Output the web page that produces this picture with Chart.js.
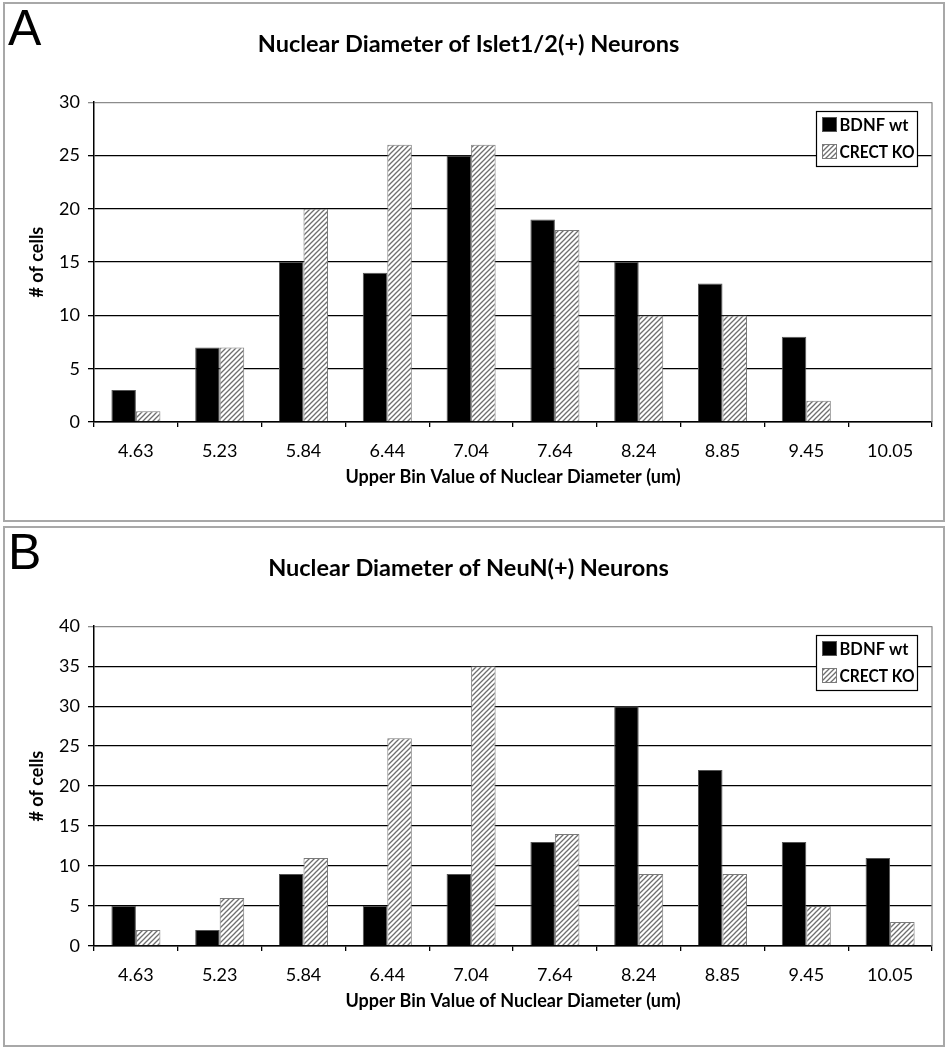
<!DOCTYPE html>
<html>
<head>
<meta charset="utf-8">
<script src="https://cdn.jsdelivr.net/npm/chart.js@4.4.0/dist/chart.umd.min.js"></script>
<style>
  body { margin: 0; background: #fff; }
  .panel { position: absolute; left: 3px; width: 942px; box-sizing: border-box; border: 2px solid #a8a8a8; background: #fff; }
  .panel canvas { position: absolute; left: 0; top: 0; }
  .letter { position: absolute; left: 3px; top: -1px; font: 50px/1 "Liberation Sans", Arial, sans-serif; color: #000; }
</style>
</head>
<body>
<div class="panel" style="top:2px;height:520px;">
  <canvas id="chartA" width="938" height="516"></canvas>
  <div class="letter">A</div>
</div>
<div class="panel" style="top:526px;height:521px;">
  <canvas id="chartB" width="938" height="516"></canvas>
  <div class="letter">B</div>
</div>
<script>
// bins and series
const binLabels = ['4.63', '5.23', '5.84', '6.44', '7.04', '7.64', '8.24', '8.85', '9.45', '10.05'];
const seriesNames = ['BDNF wt', 'CRECT KO'];

const isletWt = [3, 7, 15, 14, 25, 19, 15, 13, 8, 0];
const isletKo = [1, 7, 20, 26, 26, 18, 10, 10, 2, 0];

const neunWt = [5, 2, 9, 5, 9, 13, 30, 22, 13, 11];
const neunKo = [2, 6, 11, 26, 35, 14, 9, 9, 5, 3];

const yMaxA = 30;
const yMaxB = 40;
const yStep = 5;

const fontFamily = 'Lato, "Open Sans", sans-serif';

function makeHatch() {
    const c = document.createElement('canvas');
    c.width = 5;
    c.height = 5;
    const g = c.getContext('2d');
    g.fillStyle = '#fff';
    g.fillRect(0, 0, 5, 5);
    g.strokeStyle = '#6e6e6e';
    g.lineWidth = 1.3;
    g.beginPath();
    g.moveTo(0, 5); g.lineTo(5, 0);
    g.moveTo(-1, 1); g.lineTo(1, -1);
    g.moveTo(4, 6); g.lineTo(6, 4);
    g.stroke();
    return g.createPattern(c, 'repeat');
}

const hatch = makeHatch();

// grey frame on the right side of the plot area
const plotFrame = {
    id: 'plotFrame',
    beforeDatasetsDraw(chart) {
        const { ctx, chartArea: a } = chart;
        ctx.save();
        ctx.strokeStyle = '#8c8c8c';
        ctx.lineWidth = 1.3;
        ctx.beginPath();
        ctx.moveTo(a.right, a.top);
        ctx.lineTo(a.right, a.bottom);
        ctx.stroke();
        ctx.restore();
    }
};

// boxed legend sitting inside the plot, top right
const boxLegend = {
    id: 'boxLegend',
    afterDatasetsDraw(chart) {
        const ctx = chart.ctx;
        const a = chart.chartArea;
        const w = 101, h = 55;
        const x = Math.round(a.right - 15 - w) + 0.5;
        const y = Math.round(a.top + 9) + 0.5;
        ctx.save();
        ctx.fillStyle = '#fff';
        ctx.fillRect(x, y, w, h);
        ctx.strokeStyle = '#000';
        ctx.lineWidth = 1.2;
        ctx.strokeRect(x, y, w, h);
        ctx.font = 'bold 16.5px ' + fontFamily;
        ctx.textBaseline = 'middle';
        chart.data.datasets.forEach((ds, i) => {
            const rowY = y + 13 + i * 27;
            ctx.fillStyle = ds.backgroundColor;
            ctx.fillRect(x + 6, rowY - 7, 14, 14);
            ctx.strokeStyle = ds.borderColor;
            ctx.lineWidth = 1;
            ctx.strokeRect(x + 6, rowY - 7, 14, 14);
            ctx.fillStyle = '#000';
            ctx.fillText(ds.label, x + 23, rowY + 1, w - 26);
        });
        ctx.restore();
    }
};

function makeChart(id, title, wt, ko, yMax) {
    return new Chart(document.getElementById(id), {
        type: 'bar',
        data: {
            labels: binLabels,
            datasets: [
                { label: seriesNames[0], data: wt, backgroundColor: '#000', borderColor: '#555', borderWidth: 1 },
                { label: seriesNames[1], data: ko, backgroundColor: hatch, borderColor: '#7a7a7a', borderWidth: 1 }
            ]
        },
        options: {
            responsive: false,
            animation: false,
            devicePixelRatio: 1,
            layout: { padding: { right: 11 } },
            datasets: { bar: { categoryPercentage: 0.585, barPercentage: 1 } },
            plugins: {
                legend: { display: false },
                tooltip: { enabled: false },
                title: {
                    display: true,
                    text: title,
                    color: '#000',
                    font: { family: fontFamily, size: 23.5, weight: 'bold', lineHeight: 1.2 },
                    padding: { top: 26, bottom: 44 }
                }
            },
            scales: {
                x: {
                    grid: { drawOnChartArea: false, color: '#000', tickLength: 5, lineWidth: 1.3 },
                    border: { color: '#000', width: 1.5 },
                    ticks: { color: '#000', font: { family: fontFamily, size: 18 }, padding: 13 },
                    title: {
                        display: true,
                        text: 'Upper Bin Value of Nuclear Diameter (um)',
                        color: '#000',
                        font: { family: fontFamily, size: 18, weight: 'bold', lineHeight: 1.2 },
                        padding: { top: 0, bottom: 32 }
                    },
                    afterFit(scale) { scale.height = 98; }
                },
                y: {
                    min: 0,
                    max: yMax,
                    grid: {
                        color: ctx => ctx.tick && ctx.tick.value === yMax ? '#8c8c8c' : '#000',
                        lineWidth: 1.3,
                        tickLength: 6
                    },
                    border: { color: '#000', width: 1.5 },
                    ticks: { stepSize: yStep, color: '#000', font: { family: fontFamily, size: 18 }, padding: 8 },
                    title: {
                        display: true,
                        text: '# of cells',
                        color: '#000',
                        font: { family: fontFamily, size: 18, weight: 'bold', lineHeight: 1.2 },
                        padding: { top: 21, bottom: 0 }
                    },
                    afterFit(scale) { scale.width = 89; }
                }
            }
        },
        plugins: [plotFrame, boxLegend]
    });
}

makeChart('chartA', 'Nuclear Diameter of Islet1/2(+) Neurons', isletWt, isletKo, yMaxA);
makeChart('chartB', 'Nuclear Diameter of NeuN(+) Neurons', neunWt, neunKo, yMaxB);
</script>
</body>
</html>
